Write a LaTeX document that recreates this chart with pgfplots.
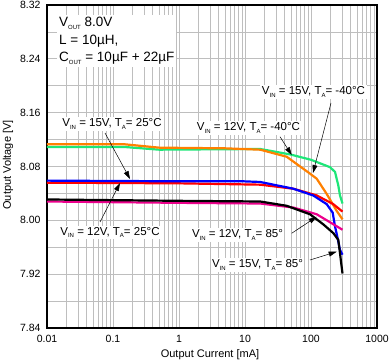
\documentclass[border=0pt]{standalone}
\usepackage{fontspec}
\setmainfont{Liberation Sans}
\usepackage{pgfplots}
\pgfplotsset{compat=1.18}
\usetikzlibrary{arrows.meta}
\definecolor{cgreen}{RGB}{30,230,120}
\definecolor{corange}{RGB}{255,128,0}
\definecolor{cgrid}{RGB}{190,190,190}
\newcommand\sub[1]{\raisebox{-0.45ex}{\fontsize{6}{7}\selectfont #1}}
\begin{document}
\begin{tikzpicture}[x=1pt,y=1pt]
\begin{axis}[
  at={(0,0)}, anchor=south west,
  scale only axis, width=330pt, height=323pt,
  xmode=log, xmin=0.01, xmax=1000, ymin=7.84, ymax=8.32,
  xtick={0.01,0.1,1,10,100,1000},
  xticklabels={0.01,0.1,1,10,100,1000},
  minor xtick={0.02,0.03,0.04,0.05,0.06,0.07,0.08,0.09,0.2,0.3,0.4,0.5,0.6,0.7,0.8,0.9,2,3,4,5,6,7,8,9,20,30,40,50,60,70,80,90,200,300,400,500,600,700,800,900},
  ytick={7.84,7.92,8.00,8.08,8.16,8.24,8.32},
  yticklabels={7.84,7.92,8.00,8.08,8.16,8.24,8.32},
  minor ytick={7.88,7.96,8.04,8.12,8.20,8.28},
  grid=both,
  major grid style={cgrid, line width=0.8pt},
  minor grid style={cgrid, line width=0.8pt},
  major tick length=0pt, minor tick length=0pt,
  axis line style={black, line width=1.5pt},
  tick label style={font=\fontsize{10.5}{12}\selectfont},
  /pgf/number format/assume math mode=true,
  yticklabel style={xshift=-3pt},
  xticklabel style={yshift=-4pt},
  xlabel={Output Current [mA]},
  label style={font=\fontsize{11}{13}\selectfont},
  xlabel style={at={(axis description cs:0.494,0)}, anchor=center, yshift=-27pt},
  every axis plot/.append style={line width=2.2pt, mark=none},
]
\addplot[cgreen] coordinates {(0.01,8.109)(0.15,8.109)(0.5,8.105)(17,8.106)(48,8.098)(100,8.090)(194,8.079)(231,8.072)(259,8.052)(275,8.037)(300,8.025)};
\addplot[corange] coordinates {(0.01,8.113)(0.15,8.113)(0.5,8.108)(5,8.107)(17,8.105)(42.8,8.0945)(96.6,8.0694)(122,8.0619)(173,8.0392)(245,8.014)(300,8.0015)};
\addplot[red] coordinates {(0.01,8.056)(1,8.055)(17,8.053)(54,8.047)(122,8.037)(218,8.024)(300,8.013)};
\addplot[blue] coordinates {(0.01,8.059)(1,8.058)(9.4,8.058)(17,8.057)(54,8.047)(108,8.037)(173,8.024)(213,8.0115)(231,7.991)(250,7.976)(275,7.956)(300,7.949)};
\addplot[magenta] coordinates {(0.01,8.028)(1,8.026)(17,8.025)(54,8.019)(122,8.009)(300,7.986)};
\addplot[black] coordinates {(0.01,8.031)(1,8.029)(17,8.028)(42.8,8.0216)(96.6,8.009)(153.6,7.994)(218,7.981)(259,7.971)(275,7.951)(300,7.921)};
\end{axis}
\node[rotate=90,font=\fontsize{11}{13}\selectfont] at (-39,163) {Output Voltage [V]};
% info box
\node[anchor=north west, fill=white, inner sep=2pt, align=left, font=\fontsize{13.5}{17.5}\selectfont] at (10,313)
  {V\sub{OUT} 8.0V\\ L = 10\textmu H,\\ C\sub{OUT} = 10\textmu F + 22\textmu F};
% arrows
\begin{scope}[-{Triangle[length=8pt,width=5pt]}, line width=0.5pt]
\draw (58,195) -- (83,149);
\draw (53,106) -- (73,145);
\draw (284,225) -- (266,155);
\draw (233,191.3) -- (244.7,173);
\draw (244.7,94.7) -- (269.7,111.3);
\draw (263,68) -- (289.7,76.3);
\end{scope}
% labels
\begin{scope}[every node/.style={fill=white, inner sep=1.5pt, font=\fontsize{11.5}{13}\selectfont}]
\node at (65,204) {V\sub{IN} = 15V, T\sub{A}= 25°C};
\node at (63,95.5) {V\sub{IN} = 12V, T\sub{A}= 25°C};
\node at (266.5,236.3) {V\sub{IN} = 15V, T\sub{A}= -40°C};
\node at (201.5,200.3) {V\sub{IN} = 12V, T\sub{A}= -40°C};
\node at (190.5,93) {V\sub{IN} = 12V, T\sub{A}= 85°};
\node at (210.5,63) {V\sub{IN} = 15V, T\sub{A}= 85°};
\end{scope}
\pgfresetboundingbox
\path[use as bounding box] (-47,-33) rectangle (343,328);
\end{tikzpicture}
\end{document}
